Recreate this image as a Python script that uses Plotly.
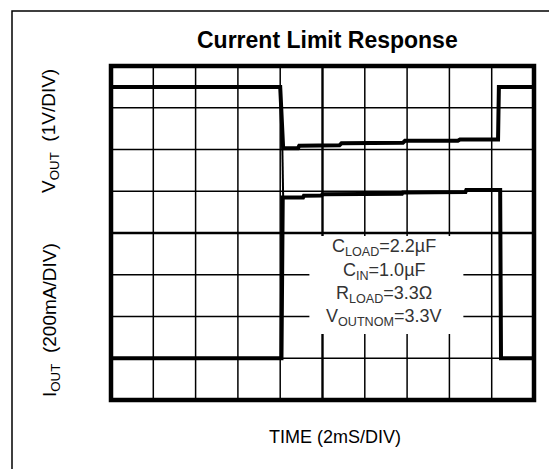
import plotly.graph_objects as go

# ---- data (in scope divisions: x 0..10, y 0..8 from bottom) ----
vout_t = [0.0, 4.00, 4.07, 4.42, 4.45, 5.40, 5.45, 6.90, 6.95, 8.20, 8.25, 9.15, 9.17, 10.0]
vout_v = [7.50, 7.50, 6.03, 6.03, 6.09, 6.10, 6.15, 6.16, 6.21, 6.21, 6.24, 6.24, 7.50, 7.50]

iout_t = [0.0, 4.03, 4.06, 4.54, 4.56, 4.98, 5.00, 6.88, 6.90, 8.38, 8.40, 9.20, 9.22, 10.0]
iout_v = [1.00, 1.00, 4.85, 4.85, 4.89, 4.90, 4.93, 4.94, 4.97, 4.98, 5.03, 5.03, 1.00, 1.00]

edge_t = [4.05, 4.08, 4.07]
edge_v = [6.10, 4.90, 4.85]

notes = ["C<sub>LOAD</sub>=2.2µF", "C<sub>IN</sub>=1.0µF",
         "R<sub>LOAD</sub>=3.3Ω", "V<sub>OUTNOM</sub>=3.3V"]

W, H = 549, 469
L, R, T, B = 111, 15, 66, 69
PW, PH = W - L - R, H - T - B


def px(x):
    return (x - L) / PW


def py(y):
    return (H - B - y) / PH


FONT = "Liberation Sans, Arial, Helvetica, sans-serif"

fig = go.Figure()
fig.add_trace(go.Scatter(x=vout_t, y=vout_v, mode="lines",
                         line=dict(color="black", width=4), hoverinfo="skip"))
fig.add_trace(go.Scatter(x=iout_t, y=iout_v, mode="lines",
                         line=dict(color="black", width=4), hoverinfo="skip"))
fig.add_trace(go.Scatter(x=edge_t, y=edge_v, mode="lines",
                         line=dict(color="black", width=2), hoverinfo="skip"))

shapes = []
# graticule
for i in range(1, 10):
    shapes.append(dict(type="line", xref="x", yref="y", x0=i, x1=i, y0=0, y1=8,
                       line=dict(color="black", width=2.4 if i == 5 else 1.5),
                       layer="below"))
for j in range(1, 8):
    shapes.append(dict(type="line", xref="x", yref="y", x0=0, x1=10, y0=j, y1=j,
                       line=dict(color="black", width=2.4 if j == 4 else 1.5),
                       layer="below"))
# white box behind the notes
shapes.append(dict(type="rect", xref="x", yref="y", x0=4.69, x1=8.33, y0=1.58, y1=3.93,
                   fillcolor="white", line=dict(width=0), layer="below"))
# frame
shapes.append(dict(type="rect", xref="paper", yref="paper", x0=0, x1=1, y0=0, y1=1,
                   line=dict(color="black", width=4.5), layer="above"))
# outer border (left and top)
shapes.append(dict(type="path", xref="paper", yref="paper",
                   path=f"M {px(12)} {py(480)} L {px(12)} {py(11)} L {px(560)} {py(11)}",
                   line=dict(color="black", width=1.5), layer="above"))


def note(text, x, y, size, color="black", angle=0):
    return dict(text=text, x=px(x), y=py(y), xref="paper", yref="paper",
                xanchor="center", yanchor="middle", showarrow=False, textangle=angle,
                font=dict(family=FONT, size=size, color=color))


ann = [
    note("<b>Current Limit Response</b>", 327, 40, 23),
    note("TIME (2mS/DIV)", 335, 437, 18),
    note("V<sub>OUT</sub>  (1V/DIV)", 50, 131, 19, angle=-90),
    note("I<sub>OUT</sub>  (200mA/DIV)", 51, 320, 19, angle=-90),
]
for t, yy in zip(notes, [247, 271, 294, 317]):
    ann.append(note(t, 384, yy, 18, color="#333333"))

fig.update_layout(
    width=W, height=H, margin=dict(l=L, r=R, t=T, b=B),
    paper_bgcolor="white", plot_bgcolor="white", showlegend=False,
    shapes=shapes, annotations=ann,
    xaxis=dict(range=[0, 10], showgrid=False, zeroline=False, showticklabels=False,
               ticks="", showline=False, fixedrange=True),
    yaxis=dict(range=[0, 8], showgrid=False, zeroline=False, showticklabels=False,
               ticks="", showline=False, fixedrange=True),
)

fig.write_html("out.html", config={"displayModeBar": False},
               post_script="document.body.style.margin='0px';")
